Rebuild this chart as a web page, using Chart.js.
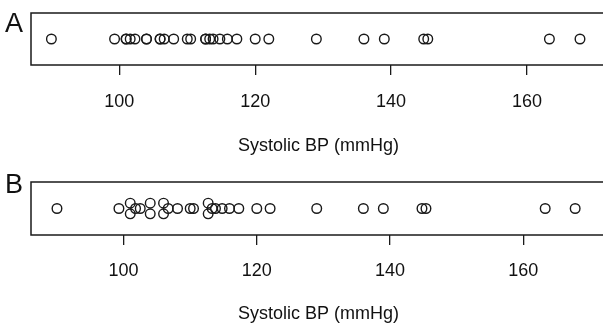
<!DOCTYPE html>
<html>
<head>
<meta charset="utf-8">
<script src="https://cdn.jsdelivr.net/npm/chart.js@4.4.0/dist/chart.umd.min.js"></script>
<style>
  body { margin: 0; width: 603px; height: 325px; overflow: hidden; background: #fff; position: relative; }
  canvas { position: absolute; left: 0; }
</style>
</head>
<body>
<canvas id="panel_a" width="612" height="162" style="top:0px"></canvas>
<canvas id="panel_b" width="612" height="163" style="top:162px"></canvas>
<script>
// systolic BP values (mmHg)
var bp_a = [90, 99.3, 101, 101, 101.6, 102.3, 104, 104, 106, 106, 106.6, 108, 110, 110.5,
            112.7, 112.7, 113.3, 113.8, 114.8, 115.9, 117.3, 120, 122, 129, 136, 139,
            144.8, 145.4, 163.3, 167.8];
// panel B: same values, duplicates stacked above / below
var bp_b = [90, 99.3, 101, 101, 101.8, 102.5, 104, 104, 106, 106, 106.7, 108.1, 110, 110.5,
            112.7, 112.7, 113.3, 113.8, 114.8, 115.9, 117.3, 120, 122, 129, 136, 139,
            144.8, 145.4, 163.3, 167.8];
var stack_b = [0, 0, 1, -1, 0, 0, 1, -1, 1, -1, 0, 0, 0, 0,
               1, -1, 0, 0, 0, 0, 0, 0, 0, 0, 0, 0,
               0, 0, 0, 0];
var tick_values = [100, 120, 140, 160];
var axis_title = 'Systolic BP (mmHg)';
var panel_letters = ['A', 'B'];

var font_name = '"Liberation Sans", Arial, Helvetica, sans-serif';

// box around the plot region + panel letter
var box_plugin = {
  id: 'box_plugin',
  afterDraw: function(chart, args, opts) {
    var ctx = chart.ctx;
    var a = chart.chartArea;
    ctx.save();
    ctx.strokeStyle = '#1a1a1a';
    ctx.lineWidth = 1.5;
    ctx.strokeRect(a.left, a.top, a.right - a.left, a.bottom - a.top);
    ctx.fillStyle = '#111';
    ctx.font = '27px ' + font_name;
    ctx.textBaseline = 'alphabetic';
    ctx.fillText(opts.text, 5, opts.y);
    ctx.restore();
  }
};

function draw_panel(id, values, stack, cfg) {
  var points = [];
  for (var i = 0; i < values.length; i++) {
    points.push({x: values[i], y: stack ? stack[i] : 0});
  }
  return new Chart(document.getElementById(id), {
    type: 'scatter',
    data: {
      datasets: [{
        data: points,
        pointStyle: 'circle',
        pointRadius: 4.8,
        pointBorderWidth: 1.4,
        borderColor: '#1a1a1a',
        backgroundColor: 'rgba(0,0,0,0)'
      }]
    },
    options: {
      responsive: false,
      animation: false,
      layout: { padding: { left: 31, top: cfg.top, right: 1, bottom: 0 } },
      plugins: {
        legend: { display: false },
        tooltip: { enabled: false },
        box_plugin: { text: cfg.letter, y: cfg.letter_y }
      },
      scales: {
        x: {
          type: 'linear',
          min: cfg.min,
          max: cfg.max,
          afterBuildTicks: function(scale) {
            scale.ticks = tick_values.map(function(v) { return {value: v}; });
          },
          afterFit: function(scale) { scale.height = cfg.axis_h; },
          border: { display: false },
          grid: { drawOnChartArea: false, drawTicks: true, tickLength: 10, color: '#1a1a1a', lineWidth: 1.3 },
          ticks: { color: '#111', padding: cfg.tick_pad, maxRotation: 0, font: { family: font_name, size: 18 } },
          title: { display: true, text: axis_title, color: '#111', padding: { top: 0, bottom: cfg.title_pad }, font: { family: font_name, size: 18 } }
        },
        y: { display: false, min: -5, max: 5 }
      }
    },
    plugins: [box_plugin]
  });
}

draw_panel('panel_a', bp_a, null, {
  letter: panel_letters[0], letter_y: 32, top: 13, min: 87, max: 171.6,
  axis_h: 97, tick_pad: 16, title_pad: 5
});
draw_panel('panel_b', bp_b, stack_b, {
  letter: panel_letters[1], letter_y: 31, top: 20, min: 86.1, max: 172.4,
  axis_h: 90, tick_pad: 15, title_pad: 0
});
</script>
</body>
</html>
